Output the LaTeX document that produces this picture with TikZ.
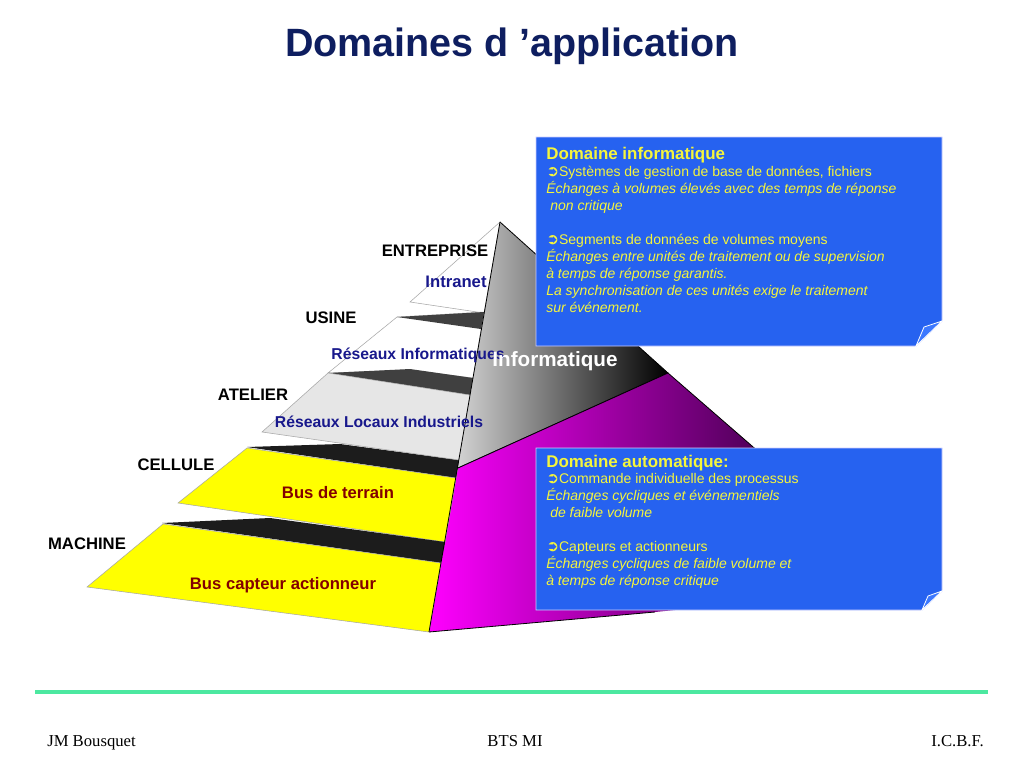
\documentclass[tikz,border=0pt]{standalone}
\usepackage{fontspec}
\setmainfont{Liberation Sans}
\newfontfamily\serifft{Liberation Serif}
\newfontfamily\symft{DejaVu Sans}
\definecolor{titleblue}{RGB}{14,30,96}
\definecolor{lblblue}{RGB}{24,24,140}
\definecolor{lblred}{RGB}{130,0,0}
\definecolor{boxblue}{RGB}{38,98,240}
\definecolor{boxflap}{RGB}{60,120,255}
\definecolor{boxtxt}{RGB}{245,245,60}
\definecolor{darkband}{RGB}{64,64,64}
\definecolor{blackband}{RGB}{28,28,28}
\definecolor{lightsurf}{RGB}{230,230,230}
\definecolor{yel}{RGB}{255,255,0}
\definecolor{purp}{RGB}{70,0,80}
\definecolor{mint}{RGB}{76,232,160}
\newcommand{\bul}{{\symft\fontsize{11.5}{12}\selectfont ➲}}
\begin{document}
\begin{tikzpicture}[x=0.75pt,y=-0.75pt,
  lvl/.style={font=\bfseries\fontsize{12.5}{14}\selectfont, inner sep=0pt},
  net/.style={lvl, text=lblblue},
  netsm/.style={net, font=\bfseries\fontsize{11.8}{14}\selectfont},
  bus/.style={lvl, text=lblred},
  surf/.style={draw=gray!70, line width=0.4pt},
  face/.style={draw=black, line width=0.6pt},
  bx/.style={fill=boxblue, draw=blue!20!white, line width=0.6pt},
  flap/.style={fill=boxflap, draw=white, line width=0.6pt},
  btitle/.style={anchor=base west, inner sep=0pt, text=boxtxt, font=\bfseries\fontsize{12.7}{14}\selectfont},
  bline/.style={anchor=base west, inner sep=0pt, text=boxtxt, font=\fontsize{10.5}{12}\selectfont},
  bital/.style={bline, font=\itshape\fontsize{10.5}{12}\selectfont},
  foot/.style={anchor=base, inner sep=0pt, font=\serifft\fontsize{12.5}{14}\selectfont}]
\useasboundingbox (0,0) rectangle (1024,768);
\fill[white] (0,0) rectangle (1024,768);

% title
\node[font=\bfseries\fontsize{29.6}{34}\selectfont, text=titleblue, inner sep=0pt] (title) at (512,46) {Domaines d ’application};

% pyramid right faces
\shade[left color=gray!35, right color=black] (500,222) -- (668,373) -- (458,468) -- cycle;
\draw[face] (500,222) -- (668,373) -- (458,468);
\shade[left color=magenta, right color=purp] (458,468) -- (668,373) -- (775,466) -- (775,600) -- (655,612) -- (429,632) -- cycle;
\draw[face] (458,468) -- (668,373) -- (775,466);
\draw[face] (429,632) -- (655,612);

% layers
\filldraw[fill=white, surf] (500,222) -- (410,302) -- (484,313) -- cycle;
\filldraw[fill=white, surf] (397,317) -- (484,312) -- (473,378) -- (410,370) -- (328,373) -- cycle;
\fill[darkband] (397,317) -- (484,312) -- (481,329) -- cycle;
\fill[darkband] (328,373) -- (410,369) -- (473,378) -- (470,395) -- cycle;
\fill[blackband] (247,447) -- (340,444) -- (459,460) -- (456,478) -- cycle;
\filldraw[fill=lightsurf, surf] (328,373) -- (470,395) -- (459,460) -- (262,432) -- cycle;
\filldraw[fill=yel, surf] (247,448) -- (456,478) -- (445,542) -- (178,503) -- cycle;
\fill[blackband] (162,523) -- (270,518) -- (445,542) -- (441,563) -- cycle;
\filldraw[fill=yel, surf] (163,524) -- (441,563) -- (429,632) -- (87,587) -- cycle;
\draw[face] (500,222) -- (429,632);

% labels
\node[lvl] (entreprise) at (435,251) {ENTREPRISE};
\node[net] (intranet) at (456,282) {Intranet};
\node[lvl] (usine) at (331,318) {USINE};
\node[netsm] (resinf) at (418,355) {Réseaux Informatiques};
\node[lvl, text=white, font=\bfseries\fontsize{15.5}{17}\selectfont] (informatique) at (555,361) {Informatique};
\node[lvl] (atelier) at (253,395) {ATELIER};
\node[netsm] (resloc) at (379,422) {Réseaux Locaux Industriels};
\node[lvl] (cellule) at (176,465) {CELLULE};
\node[bus] (busterrain) at (338,493) {Bus de terrain};
\node[lvl] (machine) at (87,544) {MACHINE};
\node[bus] (buscapteur) at (283,585) {Bus capteur actionneur};

% box 1
\filldraw[bx] (536,137) -- (942,137) -- (942,321) -- (916,346) -- (536,346) -- cycle;
\filldraw[flap] (916,346) -- (942,321) -- (924,327) -- cycle;
\node[btitle] (b1t) at (546,159) {Domaine informatique};
\node[bline] (b1a) at (546,176) {\bul Systèmes de gestion de base de données, fichiers};
\node[bital] (b1b) at (546,193) {Échanges à volumes élevés avec des temps de réponse};
\node[bital] (b1c) at (550,210) {non critique};
\node[bline] (b1d) at (546,244) {\bul Segments de données de volumes moyens};
\node[bital] (b1e) at (546,261) {Échanges entre unités de traitement ou de supervision};
\node[bital] (b1f) at (546,278) {à temps de réponse garantis.};
\node[bital] (b1g) at (546,295) {La synchronisation de ces unités exige le traitement};
\node[bital] (b1h) at (546,312) {sur événement.};

% box 2
\filldraw[bx] (536,448) -- (942,448) -- (942,591) -- (922,610) -- (536,610) -- cycle;
\filldraw[flap] (922,610) -- (942,591) -- (928,596) -- cycle;
\node[btitle] (b2t) at (546,467) {Domaine automatique:};
\node[bline] (b2a) at (546,483) {\bul Commande individuelle des processus};
\node[bital] (b2b) at (546,500) {Échanges cycliques et événementiels};
\node[bital] (b2c) at (550,517) {de faible volume};
\node[bline] (b2d) at (546,551) {\bul Capteurs et actionneurs};
\node[bital] (b2e) at (546,568) {Échanges cycliques de faible volume et};
\node[bital] (b2f) at (546,585) {à temps de réponse critique};

% footer
\coordinate (gl) at (35,692);
\coordinate (gr) at (988,692);
\draw[mint, line width=2.4pt] (gl) -- (gr);
\node[foot, anchor=base west] (f1) at (47,746) {JM Bousquet};
\node[foot] (f2) at (515,746) {BTS MI};
\node[foot, anchor=base east] (f3) at (984,746) {I.C.B.F.};
\end{tikzpicture}
\end{document}
